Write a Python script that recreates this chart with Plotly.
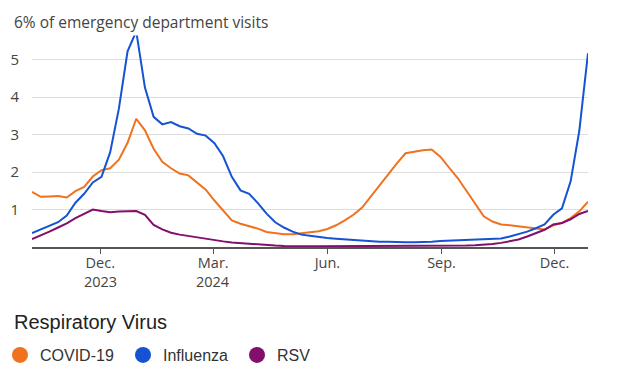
import pandas as pd
import plotly.graph_objects as go

# Weekly data: week ending dates (Saturdays) from 2023-10-07 to 2024-12-28
dates = pd.date_range("2023-10-07", "2024-12-28", freq="7D")

covid = [1.47, 1.34, 1.35, 1.36, 1.32, 1.49, 1.60, 1.88, 2.05, 2.10,
         2.33, 2.78, 3.42, 3.11, 2.62, 2.27, 2.10, 1.96, 1.91, 1.73,
         1.53, 1.24, 0.96, 0.71, 0.62, 0.56, 0.49, 0.40, 0.36, 0.34,
         0.34, 0.36, 0.38, 0.42, 0.48, 0.58, 0.71, 0.86, 1.05, 1.35,
         1.64, 1.94, 2.23, 2.50, 2.55, 2.58, 2.60, 2.41, 2.12, 1.84,
         1.50, 1.17, 0.82, 0.68, 0.60, 0.58, 0.55, 0.52, 0.50, 0.47,
         0.58, 0.64, 0.77, 0.95, 1.21]

influenza = [0.37, 0.46, 0.55, 0.66, 0.84, 1.18, 1.42, 1.72, 1.87, 2.53,
             3.69, 5.22, 5.75, 4.25, 3.47, 3.27, 3.33, 3.22, 3.16, 3.02,
             2.97, 2.77, 2.42, 1.87, 1.51, 1.42, 1.17, 0.89, 0.66, 0.52,
             0.41, 0.33, 0.30, 0.26, 0.24, 0.22, 0.20, 0.18, 0.17, 0.16,
             0.14, 0.14, 0.13, 0.13, 0.13, 0.13, 0.14, 0.16, 0.17, 0.18,
             0.18, 0.19, 0.20, 0.21, 0.23, 0.28, 0.34, 0.41, 0.50, 0.60,
             0.86, 1.03, 1.75, 3.10, 5.17]

rsv = [0.21, 0.30, 0.41, 0.52, 0.63, 0.77, 0.89, 1.00, 0.96, 0.93,
       0.95, 0.96, 0.96, 0.86, 0.59, 0.47, 0.38, 0.33, 0.29, 0.25,
       0.21, 0.18, 0.15, 0.12, 0.10, 0.09, 0.07, 0.05, 0.04, 0.03,
       0.02, 0.02, 0.02, 0.02, 0.02, 0.02, 0.02, 0.02, 0.02, 0.02,
       0.02, 0.02, 0.02, 0.02, 0.02, 0.02, 0.03, 0.03, 0.03, 0.04,
       0.04, 0.05, 0.06, 0.08, 0.11, 0.15, 0.20, 0.28, 0.37, 0.46,
       0.60, 0.64, 0.74, 0.88, 0.96]

series_names = ["COVID-19", "Influenza", "RSV"]
series_colors = ["#EF721F", "#1553D4", "#820F6C"]

x_tickvals = ["2023-12-01", "2024-03-01", "2024-06-01", "2024-09-01", "2024-12-01"]
x_ticktext = ["Dec.", "Mar.", "Jun.", "Sep.", "Dec."]
year_labels = ["2023", "2024"]
y_tickvals = [1, 2, 3, 4, 5, 6]
y_ticktext = ["1", "2", "3", "4", "5", ""]
y_top_label = "6% of emergency department visits"
legend_title = "Respiratory Virus"

TICK_FONT = "Segoe UI, Open Sans, Noto Sans, sans-serif"
LEG_FONT = "Arial, Liberation Sans, sans-serif"

# page has an 8px body margin: figure is drawn 8px in from top-left
W, H = 616, 368
PLOT_L, PLOT_R, PLOT_T, PLOT_B = 32, 588, 22, 247   # page pixels
OFF = 8
PW = PLOT_R - PLOT_L
PH = PLOT_B - PLOT_T


def px_x(px):
    return (px - PLOT_L) / PW


def px_y(py):
    return (PLOT_B - py) / PH


fig = go.Figure()
for name, vals, col in zip(series_names, [covid, influenza, rsv], series_colors):
    fig.add_trace(go.Scatter(x=dates, y=vals, mode="lines", name=name,
                             line=dict(color=col, width=2), showlegend=False,
                             hoverinfo="skip"))

legend_ids = ["legend", "legend2", "legend3"]
legend_centers = [21, 144, 258]   # page x of legend circle centres
for name, col, lid in zip(series_names, series_colors, legend_ids):
    fig.add_trace(go.Scatter(x=[None], y=[None], mode="markers", name=name,
                             legend=lid,
                             marker=dict(color=col, size=16, symbol="circle")))

legend_common = dict(orientation="h", xanchor="left", yanchor="middle",
                     y=px_y(355),
                     font=dict(family=LEG_FONT, size=16, color="#333333"),
                     itemsizing="trace", bgcolor="rgba(0,0,0,0)")

layout_legends = {}
for lid, cx in zip(legend_ids, legend_centers):
    layout_legends[lid] = dict(legend_common, x=px_x(cx - 21))

fig.update_layout(
    width=W, height=H,
    margin=dict(l=PLOT_L - OFF, r=OFF + W - PLOT_R, t=PLOT_T - OFF,
                b=OFF + H - PLOT_B, autoexpand=False),
    paper_bgcolor="white", plot_bgcolor="white",
    showlegend=True,
    xaxis=dict(range=[dates[0], dates[-1]], tickmode="array",
               tickvals=x_tickvals, ticktext=x_ticktext, automargin=False,
               showgrid=False, showline=True, linecolor="#555555", linewidth=2,
               ticks="outside", ticklen=5, tickcolor="#555555", tickwidth=1,
               ticklabelstandoff=-3,
               tickfont=dict(family=TICK_FONT, size=14.5, color="#444444"),
               zeroline=False),
    yaxis=dict(range=[0, 6], tickmode="array", tickvals=y_tickvals,
               ticktext=y_ticktext, showgrid=True, gridcolor="#DDDDDD",
               gridwidth=1, zeroline=False, showline=False,
               ticks="outside", ticklen=9, tickcolor="rgba(0,0,0,0)",
               automargin=False,
               tickfont=dict(family=TICK_FONT, size=15, color="#444444")),
    **layout_legends,
)

for yl, xv in zip(year_labels, x_tickvals):
    fig.add_annotation(x=xv, xref="x", xanchor="center",
                       y=px_y(281), yref="paper", yanchor="middle",
                       text=yl, showarrow=False, borderpad=0,
                       font=dict(family=TICK_FONT, size=14.5, color="#444444"))

fig.add_annotation(x=px_x(11), xref="paper", xanchor="left", y=6, yref="y",
                   yanchor="middle", text=y_top_label, showarrow=False,
                   bgcolor="white", borderpad=2,
                   font=dict(family=TICK_FONT, size=15.5, color="#444444"))
fig.add_annotation(x=px_x(12), xref="paper", xanchor="left",
                   y=px_y(322), yref="paper", yanchor="middle",
                   text=legend_title, showarrow=False,
                   font=dict(family=LEG_FONT, size=20, color="#222222"))

fig.write_html("out.html")
